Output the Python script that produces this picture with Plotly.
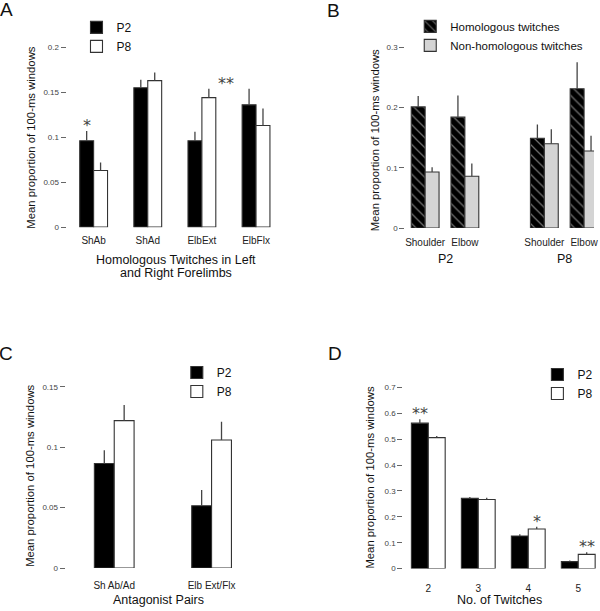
import plotly.graph_objects as go

W, H = 600, 611

# ---------------- data ----------------
# Panel A
a_cats = ["ShAb", "ShAd", "ElbExt", "ElbFlx"]
a_p2 = [0.096, 0.155, 0.096, 0.136]
a_p2_err = [0.011, 0.009, 0.010, 0.018]
a_p8 = [0.063, 0.163, 0.144, 0.113]
a_p8_err = [0.009, 0.009, 0.010, 0.019]
a_yticks = [0, 0.05, 0.1, 0.15, 0.2]
a_yticklabels = ["0", "0.05", "0.1", "0.15", "0.2"]

# Panel B
b_groups = ["P2", "P8"]
b_joints = ["Shoulder", "Elbow"]
b_hom = [0.201, 0.184, 0.149, 0.231]
b_hom_err = [0.018, 0.036, 0.023, 0.044]
b_non = [0.093, 0.086, 0.140, 0.128]
b_non_err = [0.008, 0.021, 0.024, 0.025]
b_yticks = [0, 0.1, 0.2, 0.3]
b_yticklabels = ["0", "0.1", "0.2", "0.3"]

# Panel C
c_cats = ["Sh Ab/Ad", "Elb Ext/Flx"]
c_p2 = [0.0865, 0.0515]
c_p2_err = [0.011, 0.013]
c_p8 = [0.122, 0.106]
c_p8_err = [0.013, 0.015]
c_yticks = [0, 0.05, 0.1, 0.15]
c_yticklabels = ["0", "0.05", "0.1", "0.15"]

# Panel D
d_cats = ["2", "3", "4", "5"]
d_p2 = [0.562, 0.272, 0.126, 0.027]
d_p2_err = [0.015, 0.005, 0.007, 0.004]
d_p8 = [0.506, 0.267, 0.153, 0.055]
d_p8_err = [0.006, 0.007, 0.009, 0.008]
d_yticks = [0, 0.1, 0.2, 0.3, 0.4, 0.5, 0.6, 0.7]
d_yticklabels = ["0", "0.1", "0.2", "0.3", "0.4", "0.5", "0.6", "0.7"]

# significance marks: (panel, category index, series, text)
sig_marks = [("A", 0, "P2", "*"), ("A", 2, "P8", "**"),
             ("D", 0, "P2", "**"), ("D", 2, "P8", "*"), ("D", 3, "P8", "**")]

# ---------------- helpers ----------------
FONT = "Liberation Sans, Arial, sans-serif"
EDGE = "#333333"
ERRC = "#444444"


def xd(a, b):
    return [a / W, b / W]


def yd(top, bottom):
    return [(H - bottom) / H, (H - top) / H]


def px_x(px):
    return px / W


def px_y(py):
    return (H - py) / H


fig = go.Figure()


def add_bars(xs, vals, errs, name, color, w, offset, xa, ya, legend, pattern=None):
    marker = dict(color=color, line=dict(color=EDGE, width=1.1))
    if pattern is not None:
        marker["pattern"] = pattern
    fig.add_trace(go.Bar(
        x=xs, y=vals, name=name, width=w, offset=offset,
        marker=marker, xaxis=xa, yaxis=ya, legend=legend,
        legendgroup=legend + name,
        error_y=dict(type="data", array=errs, arrayminus=[0] * len(errs),
                     symmetric=False, width=0, thickness=1.3, color=ERRC),
        showlegend=True, hoverinfo="skip",
    ))


# Panel A
wa = 0.257
xa_pos = list(range(len(a_cats)))
add_bars(xa_pos, a_p2, a_p2_err, "P2", "black", wa, -wa, "x", "y", "legend")
add_bars(xa_pos, a_p8, a_p8_err, "P8", "white", wa, 0, "x", "y", "legend")

# Panel B
wb = 0.35
xb_pos = [g * 3 + j for g in range(len(b_groups)) for j in range(len(b_joints))]
hatch = dict(shape="\\", bgcolor="black", fgcolor="#e0e0e0", size=7, solidity=0.18)
add_bars(xb_pos, b_hom, b_hom_err, "Homologous twitches", "black", wb, -wb, "x2", "y2", "legend2", pattern=hatch)
add_bars(xb_pos, b_non, b_non_err, "Non-homologous twitches", "#d4d4d4", wb, 0, "x2", "y2", "legend2")

# Panel C
wc = 0.204
xc_pos = list(range(len(c_cats)))
add_bars(xc_pos, c_p2, c_p2_err, "P2", "black", wc, -wc, "x3", "y3", "legend3")
add_bars(xc_pos, c_p8, c_p8_err, "P8", "white", wc, 0, "x3", "y3", "legend3")

# Panel D
wd = 0.338
xd_pos = list(range(len(d_cats)))
add_bars(xd_pos, d_p2, d_p2_err, "P2", "black", wd, -wd, "x4", "y4", "legend4")
add_bars(xd_pos, d_p8, d_p8_err, "P8", "white", wd, 0, "x4", "y4", "legend4")

# ---------------- axes ----------------
tickfont_y = dict(family=FONT, size=8, color="#444444")
tickfont_x = dict(family=FONT, size=10, color="#222222")


def yaxis(dom, rng, tv, tt, anchor):
    return dict(domain=dom, range=rng, tickvals=tv, ticktext=tt, ticks="outside",
                ticklen=5, tickwidth=1, tickcolor="#666666", showline=False,
                showgrid=False, zeroline=False, tickfont=tickfont_y, fixedrange=True,
                anchor=anchor)


def xaxis(dom, rng, tv, tt, anchor, tl=5):
    return dict(domain=dom, range=rng, tickvals=tv, ticktext=tt, ticks="outside",
                ticklen=tl, tickcolor="rgba(0,0,0,0)", showline=False, showgrid=False,
                zeroline=False, tickfont=tickfont_x, anchor=anchor, fixedrange=True,
                ticklabeloverflow="allow")


layout = dict(
    width=W, height=H, margin=dict(l=0, r=0, t=0, b=0),
    paper_bgcolor="white", plot_bgcolor="rgba(0,0,0,0)",
    barmode="overlay", font=dict(family=FONT, color="#111111"),
    xaxis=xaxis(xd(67, 285), [-0.5, 3.5], xa_pos, a_cats, "y", 4),
    yaxis=yaxis(yd(229 - 0.22 * 906.5, 229), [0, 0.22], a_yticks, a_yticklabels, "x"),
    xaxis2=xaxis(xd(408, 598), [-0.5, 4.25], xb_pos, b_joints * len(b_groups), "y2", 5),
    yaxis2=yaxis(yd(230 - 0.33 * 608, 230), [0, 0.33], b_yticks, b_yticklabels, "x2"),
    xaxis3=xaxis(xd(66, 262), [-0.5, 1.5], xc_pos, c_cats, "y3", 8),
    yaxis3=yaxis(yd(572.7 - 0.165 * 1218, 572.7), [0, 0.165], c_yticks, c_yticklabels, "x3"),
    xaxis4=xaxis(xd(406, 600), [-0.5, 3.355], xd_pos, d_cats, "y4", 10),
    yaxis4=yaxis(yd(573.3 - 0.75 * 261, 573.3), [0, 0.75], d_yticks, d_yticklabels, "x4"),
)


def legend(cx, cy, size=12):
    return dict(x=px_x(cx - 20), y=px_y(cy - 12), xanchor="left", yanchor="top",
                bgcolor="rgba(0,0,0,0)", font=dict(family=FONT, size=size, color="#111111"),
                traceorder="normal", tracegroupgap=3, itemclick=False, itemdoubleclick=False)


layout["legend"] = legend(97, 25)
layout["legend2"] = legend(433, 24, 11.5)
layout["legend3"] = legend(198, 373)
layout["legend4"] = legend(561, 375)
fig.update_layout(**layout)

# ---------------- annotations ----------------
ann = []


def paper_text(text, x, y, size, angle=0, color="#111111"):
    ann.append(dict(text=text, x=px_x(x), y=px_y(y), xref="paper", yref="paper",
                    showarrow=False, textangle=angle, xanchor="center", yanchor="middle",
                    font=dict(family=FONT, size=size, color=color)))


# panel letters
paper_text("A", 7, 10, 19)
paper_text("B", 336, 11, 19)
paper_text("C", 6, 356, 19)
paper_text("D", 337, 356, 19)

ytitle = "Mean proportion of 100-ms windows"
paper_text(ytitle, 31, 139, 11.3, -90)
paper_text(ytitle, 377, 141, 11.3, -90)
paper_text(ytitle, 30, 480, 11.3, -90)
paper_text(ytitle, 373, 482, 11.3, -90)

paper_text("Homologous Twitches in Left", 177, 262, 12.5)
paper_text("and Right Forelimbs", 177, 275, 12.5)
paper_text("Antagonist Pairs", 160, 605, 12.5)
paper_text("No. of Twitches", 503, 605, 12.5)

# group labels panel B
for g, gname in enumerate(b_groups):
    ann.append(dict(text=gname, x=g * 3 + 0.5, y=px_y(261), xref="x2", yref="paper",
                    showarrow=False, xanchor="center", yanchor="middle",
                    font=dict(family=FONT, size=12.5, color="#111111")))

# significance asterisks
panel_info = {
    "A": ("x", "y", wa, a_p2, a_p2_err, a_p8, a_p8_err),
    "D": ("x4", "y4", wd, d_p2, d_p2_err, d_p8, d_p8_err),
}
for panel, idx, series, txt in sig_marks:
    xr, yr, w, p2, p2e, p8, p8e = panel_info[panel]
    if series == "P2":
        xx, yy = idx - w / 2, p2[idx] + p2e[idx]
    else:
        xx, yy = idx + w / 2, p8[idx] + p8e[idx]
    shift = 17 if (panel == "A" and txt == "**") else 0
    ann.append(dict(text=txt, x=xx, y=yy, xref=xr, yref=yr, showarrow=False,
                    xanchor="center", yanchor="bottom", xshift=shift, yshift=-6,
                    font=dict(family="DejaVu Sans", size=16, color="#444444")))

fig.update_layout(annotations=ann)
fig.write_html(
    "out.html",
    config={"displayModeBar": False},
    post_script="document.body.style.margin='0';document.body.style.overflow='hidden';",
)
